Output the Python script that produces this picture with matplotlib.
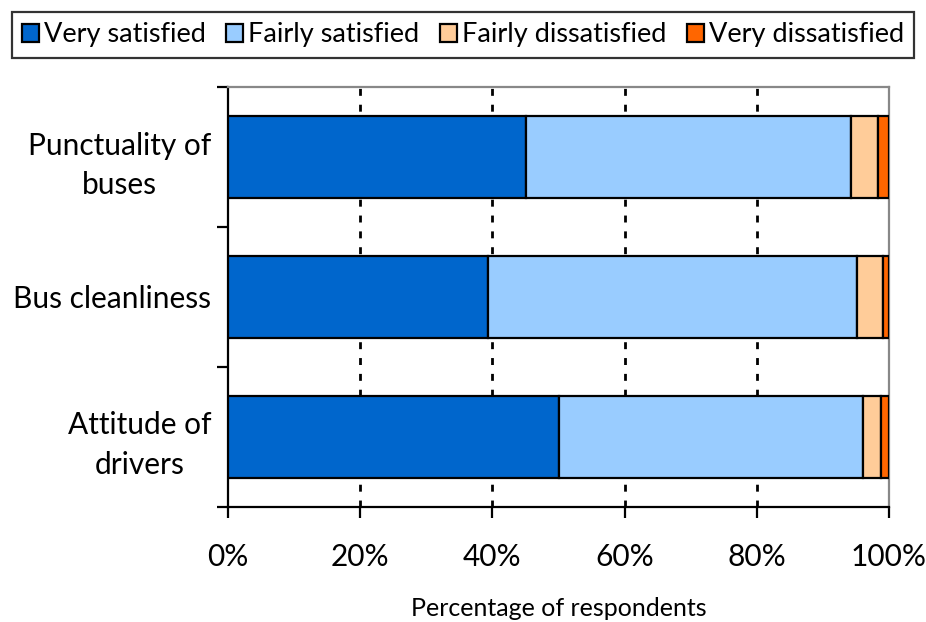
import matplotlib
matplotlib.use("Agg")
import matplotlib.pyplot as plt
from matplotlib.patches import Patch
import numpy as np

plt.rcParams['font.family'] = ['Lato', 'DejaVu Sans']

categories = ["Punctuality of\nbuses", "Bus cleanliness", "Attitude of\ndrivers"]
series_names = ["Very satisfied", "Fairly satisfied", "Fairly dissatisfied", "Very dissatisfied"]
very_satisfied = [45.1, 39.3, 50.1]
fairly_satisfied = [49.2, 55.8, 46.0]
fairly_dissatisfied = [4.0, 4.0, 2.7]
very_dissatisfied = [1.7, 0.9, 1.2]
colors = ["#0066CC", "#99CCFF", "#FFCC99", "#FF6600"]
xticks = [0, 20, 40, 60, 80, 100]
xticklabels = ["0%", "20%", "40%", "60%", "80%", "100%"]

fig = plt.figure(figsize=(9.26, 6.22), dpi=100)
ax = fig.add_axes([228/926, 1-507/622, (889-228)/926, (507-87)/622])

y = np.arange(len(categories))
left = np.zeros(len(categories))
for vals, c in zip([very_satisfied, fairly_satisfied, fairly_dissatisfied, very_dissatisfied], colors):
    ax.barh(y, vals, left=left, height=0.586, color=c, edgecolor="black", linewidth=1.6, zorder=3)
    left = left + np.array(vals)

ax.set_xlim(0, 100)
ax.set_ylim(2.5, -0.5)

for gx in [20, 40, 60, 80]:
    ax.axvline(gx, color="black", linewidth=2.0, linestyle=(0, (2.5, 3.2)), zorder=1)

ax.set_xticks(xticks)
ax.set_xticklabels(xticklabels, fontsize=21.5)
ax.tick_params(axis="x", length=8, width=1.6, direction="out", pad=18, colors="black")

ax.set_yticks([-0.5, 0.5, 1.5, 2.5])
ax.set_yticklabels([])
ax.set_yticks(y, minor=True)
ax.set_yticklabels(categories, minor=True, fontsize=21.5, multialignment="center", linespacing=1.5)
ax.tick_params(axis="y", which="major", length=8, width=1.6, direction="out")
ax.tick_params(axis="y", which="minor", length=0, pad=12)

for s in ["left", "bottom"]:
    ax.spines[s].set_color("black")
    ax.spines[s].set_linewidth(1.6)
for s in ["top", "right"]:
    ax.spines[s].set_color("#888888")
    ax.spines[s].set_linewidth(1.6)

ax.set_xlabel("Percentage of respondents", fontsize=18, labelpad=19)

handles = [Patch(facecolor=c, edgecolor="black", linewidth=1.6) for c in colors]
leg = fig.legend(handles, series_names, loc="upper center", bbox_to_anchor=(0.5, 1 - 12/622),
                 ncol=4, fontsize=19.5, frameon=True, fancybox=False, edgecolor="black",
                 handlelength=0.62, handleheight=0.62, handletextpad=0.2, columnspacing=0.75,
                 borderpad=0.38, borderaxespad=0)
leg.get_frame().set_linewidth(1.6)

fig.savefig("out.png", dpi=100)
